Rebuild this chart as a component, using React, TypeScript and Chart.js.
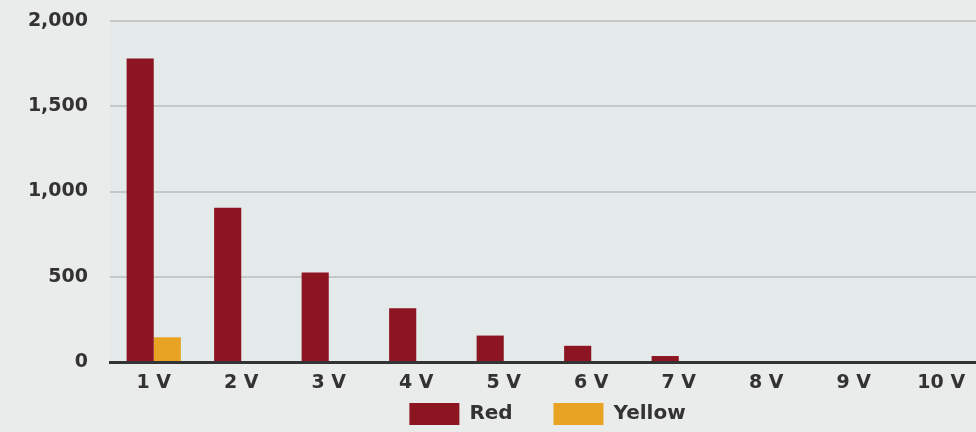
import React, { useEffect, useRef } from 'react';
import { Chart, registerables } from 'chart.js';

Chart.register(...registerables);

const categories = ['1 V', '2 V', '3 V', '4 V', '5 V', '6 V', '7 V', '8 V', '9 V', '10 V'];
const redValues = [1780, 905, 525, 315, 155, 95, 35, 0, 0, 0];
const yellowValues = [145, 0, 0, 0, 0, 0, 0, 0, 0, 0];
const seriesNames = ['Red', 'Yellow'];
const yMin = 0;
const yMax = 2000;
const yStep = 500;

const FONT = '"DejaVu Sans", "Liberation Sans", sans-serif';
const TEXT = '#333333';

export default function App() {
  const ref = useRef<HTMLCanvasElement>(null);

  useEffect(() => {
    if (!ref.current) return;
    const bgPlugin = {
      id: 'bgPlugin',
      beforeDraw(chart: any) {
        const { ctx, chartArea, width, height } = chart;
        ctx.save();
        ctx.fillStyle = '#eaebeb';
        ctx.fillRect(0, 0, width, height);
        ctx.fillStyle = '#e4e9e9';
        ctx.fillRect(chartArea.left, chartArea.top, chartArea.right - chartArea.left, chartArea.bottom - chartArea.top);
        ctx.restore();
      },
    };

    const chart = new Chart(ref.current, {
      type: 'bar',
      data: {
        labels: categories,
        datasets: [
          {
            label: seriesNames[0],
            data: redValues,
            backgroundColor: '#8d1421',
            borderWidth: 0,
            barPercentage: 1,
            categoryPercentage: 0.62,
          },
          {
            label: seriesNames[1],
            data: yellowValues,
            backgroundColor: '#e9a324',
            borderWidth: 0,
            barPercentage: 1,
            categoryPercentage: 0.62,
          },
        ],
      },
      options: {
        responsive: false,
        animation: false,
        devicePixelRatio: 1,
        layout: { padding: { top: 21, right: 1, left: 0, bottom: 0 } },
        scales: {
          x: {
            grid: { display: false, drawTicks: false },
            border: { display: true, color: '#333333', width: 3 },
            ticks: {
              padding: 10,
              color: TEXT,
              font: { family: FONT, size: 19, weight: 'bold' },
            },
            afterFit: (s: any) => {
              s.height = 35;
            },
          },
          y: {
            min: yMin,
            max: yMax,
            ticks: {
              stepSize: yStep,
              padding: 22,
              color: TEXT,
              font: { family: FONT, size: 19, weight: 'bold' },
              callback: (v: any) => Number(v).toLocaleString('en-US'),
            },
            grid: {
              color: (c: any) => (c.tick && c.tick.value === 0 ? 'rgba(0,0,0,0)' : '#c6c8c8'),
              lineWidth: 2,
              drawTicks: false,
            },
            border: { display: false },
            afterFit: (s: any) => {
              s.width = 110;
              s.paddingTop = 0;
              s.paddingBottom = 0;
            },
          },
        },
        plugins: {
          legend: {
            position: 'bottom',
            fullSize: false,
            labels: {
              boxWidth: 50,
              boxHeight: 22,
              padding: 6,
              color: TEXT,
              font: { family: FONT, size: 20, weight: 'bold' },
              generateLabels: (ch: any) => {
                const items = (Chart.defaults.plugins.legend.labels as any).generateLabels(ch);
                return items.map((it: any, i: number) => ({
                  ...it,
                  lineWidth: 0,
                  text: i < items.length - 1 ? it.text + '     ' : it.text,
                }));
              },
            },
          },
          tooltip: { enabled: false },
        },
      } as any,
      plugins: [bgPlugin],
    });
    return () => chart.destroy();
  }, []);

  return (
    <div style={{ position: 'fixed', left: 0, top: 0, width: 976, height: 432, overflow: 'hidden' }}>
      <canvas ref={ref} width={986} height={435} style={{ display: 'block' }} />
    </div>
  );
}
